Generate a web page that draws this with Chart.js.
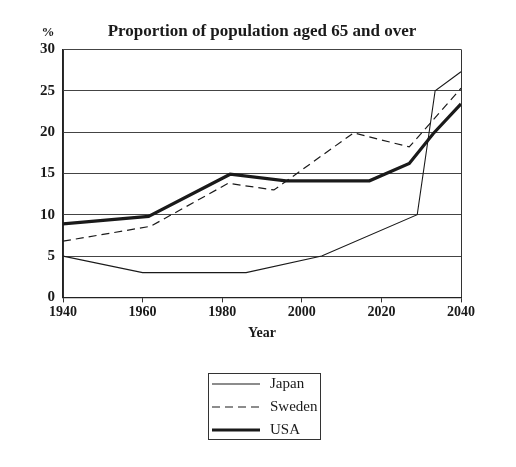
<!DOCTYPE html>
<html>
<head>
<meta charset="utf-8">
<title>Proportion of population aged 65 and over</title>
<script src="https://cdn.jsdelivr.net/npm/chart.js@4/dist/chart.umd.min.js"></script>
<style>
  html, body { margin: 0; padding: 0; background: #fff; }
</style>
</head>
<body>
<canvas id="agedChart" width="516" height="467"></canvas>
<script>
// values
const japanYears = [1940, 1960, 1986, 2005, 2029, 2033.5, 2040];
const japanValues = [5, 3, 3, 5, 10, 25, 27.3];
const swedenYears = [1940, 1962, 1981.5, 1993, 2013, 2027, 2040];
const swedenValues = [6.8, 8.6, 13.8, 13, 19.9, 18.2, 25.3];
const usaYears = [1940, 1961.5, 1982, 1996, 2017, 2027, 2033, 2040];
const usaValues = [8.9, 9.8, 14.9, 14.1, 14.1, 16.2, 19.8, 23.4];
const yearTicks = [1940, 1960, 1980, 2000, 2020, 2040];
const percentTicks = [0, 5, 10, 15, 20, 25, 30];

const serif = "'Liberation Serif', 'Times New Roman', serif";
const ink = "#1a1a1a";

function toPoints(xs, ys) {
    return xs.map(function(x, i) { return {x: x, y: ys[i]}; });
}

// framed legend under the axis, like the printed figure
const boxedLegend = {
    id: "boxedLegend",
    afterDraw: function(chart) {
        const ctx = chart.ctx;
        const left = 208, top = chart.scales.x.bottom + 29;
        const w = 112, h = 66;
        ctx.save();
        ctx.strokeStyle = "#333";
        ctx.lineWidth = 1;
        ctx.strokeRect(left + 0.5, top + 0.5, w, h);
        ctx.font = "15px " + serif;
        ctx.fillStyle = ink;
        ctx.textBaseline = "middle";
        chart.data.datasets.forEach(function(ds, i) {
            const y = top + 11 + i * 23;
            ctx.beginPath();
            ctx.strokeStyle = ds.borderColor;
            ctx.lineWidth = ds.borderWidth;
            ctx.setLineDash(ds.borderDash || []);
            ctx.moveTo(left + 4, y);
            ctx.lineTo(left + 52, y);
            ctx.stroke();
            ctx.setLineDash([]);
            ctx.fillText(ds.label, left + 62, y);
        });
        // unit label above the y axis
        ctx.font = "bold 13px " + serif;
        ctx.textAlign = "center";
        ctx.fillText("%", 48, 33);
        ctx.restore();
    }
};

document.addEventListener("DOMContentLoaded", function() {
    const ctx = document.getElementById("agedChart").getContext("2d");
    new Chart(ctx, {
        type: "line",
        data: {
            datasets: [{
                label: "Japan",
                data: toPoints(japanYears, japanValues),
                borderColor: ink,
                borderWidth: 1.1,
                pointRadius: 0,
                tension: 0
            }, {
                label: "Sweden",
                data: toPoints(swedenYears, swedenValues),
                borderColor: ink,
                borderWidth: 1.2,
                borderDash: [8, 5],
                pointRadius: 0,
                tension: 0
            }, {
                label: "USA",
                data: toPoints(usaYears, usaValues),
                borderColor: ink,
                borderWidth: 3.2,
                pointRadius: 0,
                tension: 0
            }]
        },
        options: {
            responsive: false,
            animation: false,
            layout: {
                padding: {left: 0, right: 55, top: 0, bottom: 123}
            },
            plugins: {
                legend: {display: false},
                tooltip: {enabled: false},
                title: {
                    display: true,
                    fullSize: false,
                    text: "Proportion of population aged 65 and over",
                    color: ink,
                    font: {family: serif, size: 17, weight: "bold"},
                    padding: {top: 21, bottom: 8}
                }
            },
            scales: {
                x: {
                    type: "linear",
                    min: 1940,
                    max: 2040,
                    afterBuildTicks: function(scale) {
                        scale.ticks = yearTicks.map(function(v) { return {value: v}; });
                    },
                    ticks: {
                        color: ink,
                        padding: 2,
                        maxRotation: 0,
                        font: {family: serif, size: 14, weight: "bold"},
                        callback: function(v) { return String(v); }
                    },
                    grid: {
                        color: function(c) {
                            return c.tick && (c.tick.value === 1940 || c.tick.value === 2040) ? "#333" : "rgba(0,0,0,0)";
                        },
                        tickColor: "#333",
                        tickLength: 5
                    },
                    border: {display: true, color: "#222", width: 1.2},
                    title: {
                        display: true,
                        text: "Year",
                        color: ink,
                        font: {family: serif, size: 14, weight: "bold"},
                        padding: {top: 2, bottom: 2}
                    }
                },
                y: {
                    min: 0,
                    max: 30,
                    afterBuildTicks: function(scale) {
                        scale.ticks = percentTicks.map(function(v) { return {value: v}; });
                    },
                    afterFit: function(scale) { scale.width = 63; },
                    ticks: {
                        color: ink,
                        padding: 8,
                        font: {family: serif, size: 15, weight: "bold"}
                    },
                    grid: {
                        color: "#444",
                        lineWidth: 1,
                        drawTicks: false
                    },
                    border: {display: true, color: "#222", width: 1.2}
                }
            }
        },
        plugins: [boxedLegend]
    });
});
</script>
</body>
</html>
